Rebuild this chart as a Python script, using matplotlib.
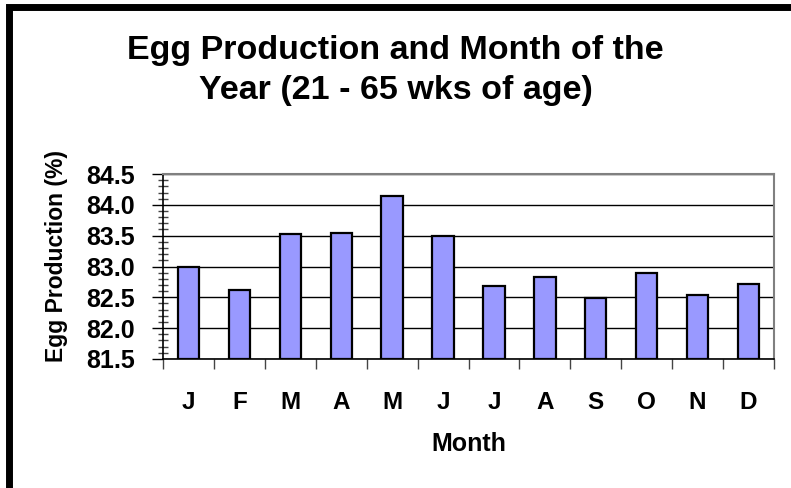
import matplotlib.pyplot as plt
import numpy as np
from matplotlib.patches import Rectangle
from matplotlib.ticker import MultipleLocator

plt.rcParams['font.family'] = ['Liberation Sans', 'DejaVu Sans']
plt.rcParams['font.weight'] = 'bold'

months = ['J', 'F', 'M', 'A', 'M', 'J', 'J', 'A', 'S', 'O', 'N', 'D']
production = [83.0, 82.62, 83.53, 83.55, 84.15, 83.49, 82.69, 82.83, 82.49, 82.89, 82.54, 82.72]
y_ticks = [81.5, 82.0, 82.5, 83.0, 83.5, 84.0, 84.5]

W, H = 791, 488
fig = plt.figure(figsize=(W / 100, H / 100), dpi=100)

# outer frame (cut off at right and bottom, like the source image)
fig.patches.append(Rectangle((8.5 / W, -5.0 / H), 1.0, (488 - 6.5 + 5.0) / H,
                             transform=fig.transFigure, fill=False,
                             edgecolor='black', linewidth=5.0, clip_on=False))

ax = fig.add_axes([163 / W, (H - 359) / H, (774 - 163) / W, (359 - 174) / H])

x = np.arange(len(months))
ax.bar(x, [v - 81.5 for v in production], bottom=81.5, width=0.42,
       color='#9999ff', edgecolor='black', linewidth=1.6, zorder=3)

ax.set_xlim(-0.5, len(months) - 0.5)
ax.set_ylim(81.5, 84.5)
ax.set_yticks(y_ticks)
ax.set_yticklabels([f'{v:.1f}' for v in y_ticks], fontsize=18, fontweight='bold')
ax.yaxis.set_minor_locator(MultipleLocator(0.1))
ax.grid(axis='y', color='black', linewidth=1.0, zorder=0)

# category boundaries as major ticks, labels at centres
ax.set_xticks(np.arange(-0.5, len(months), 1.0))
ax.set_xticklabels([])
ax.set_xticks(x, minor=True)
ax.set_xticklabels(months, minor=True, fontsize=17.5, fontweight='bold')
ax.tick_params(axis='x', which='major', direction='out', length=7, width=1, color='#444444')
ax.tick_params(axis='x', which='minor', length=0, pad=23)
ax.tick_params(axis='y', which='major', direction='out', length=8, width=1, pad=12)
ax.tick_params(axis='y', which='minor', direction='inout', length=7, width=1, color='#444444')

for side in ['top', 'right']:
    ax.spines[side].set_color('#808080')
    ax.spines[side].set_linewidth(1.5)
for side in ['left', 'bottom']:
    ax.spines[side].set_color('black')
    ax.spines[side].set_linewidth(1.2)

ax.set_xlabel('Month', fontsize=18, fontweight='bold', labelpad=13)
fig.text(57 / W, 1 - 256 / H, 'Egg Production (%)', rotation=90, fontsize=16.5,
         fontweight='bold', ha='center', va='center')

fig.text(0.5, 1 - 70.5 / H, 'Egg Production and Month of the\nYear (21 - 65 wks of age)',
         ha='center', va='center', fontsize=24.5, fontweight='bold', linespacing=1.36)

fig.savefig('out.png', dpi=100)
